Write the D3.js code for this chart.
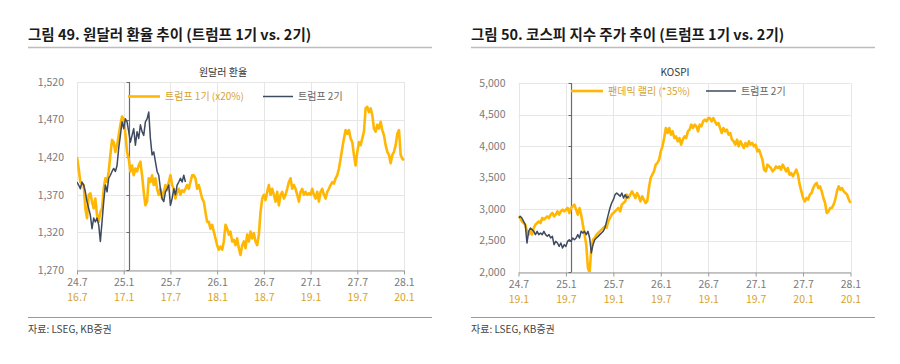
<!DOCTYPE html>
<html><head><meta charset="utf-8">
<script src="https://cdn.jsdelivr.net/npm/d3@7"></script>
<style>
body{margin:0;background:#fff}
svg text{font-family:"Noto Sans CJK KR","Noto Sans",sans-serif}
</style>
</head><body>
<svg id="c" width="900" height="364"></svg>
<script>
// ---------- data ----------
const samplesPerHalf = 28;           // samples per half-year
const inauguration = 1.105;          // half-years after 2024-07 (2025-01-20)

const xTickLabels = ["24.7","25.1","25.7","26.1","26.7","27.1","27.7","28.1"];
const leftSubLabels = ["16.7","17.1","17.7","18.1","18.7","19.1","19.7","20.1"];
const rightSubLabels = ["19.1","19.7","19.1","19.7","19.1","19.7","20.1","20.1"];

const leftYTicks = [1270,1320,1370,1420,1470,1520];
const rightYTicks = [2000,2500,3000,3500,4000,4500,5000];

// 원달러 환율: 트럼프 1기 (x20%)
const krwTrump1 = [
1420,1405,1387,1385,1383,1352,1339,1370,1372,1361,
1352,1365,1343,1334,1347,1352,1378,1392,1387,1401,
1423,1443,1440,1427,1436,1449,1463,1474,1471,1451,
1427,1418,1401,1409,1396,1405,1401,1409,1414,1396,
1374,1356,1361,1392,1387,1396,1383,1392,1378,1370,
1378,1365,1374,1383,1376,1387,1396,1383,1378,1365,
1374,1378,1370,1376,1374,1378,1383,1378,1387,1396,
1396,1392,1378,1383,1374,1365,1361,1347,1334,1334,
1325,1330,1321,1312,1303,1297,1301,1297,1308,1330,
1325,1317,1321,1308,1310,1303,1312,1299,1290,1303,
1308,1299,1317,1308,1321,1312,1319,1308,1303,1317,
1347,1365,1370,1363,1374,1383,1370,1378,1370,1361,
1374,1356,1370,1374,1365,1370,1378,1387,1392,1378,
1383,1378,1370,1361,1374,1378,1370,1374,1370,1372,
1370,1378,1370,1365,1374,1361,1374,1378,1370,1365,
1374,1378,1383,1387,1385,1392,1396,1405,1418,1432,
1445,1456,1451,1456,1445,1440,1423,1409,1427,1440,
1436,1445,1454,1485,1487,1480,1485,1476,1458,1454,
1463,1458,1467,1456,1449,1436,1427,1423,1412,1423,
1427,1436,1451,1456,1423,1418,1416];
// 원달러 환율: 트럼프 2기
const krwTrump2 = [
1387,1383,1378,1387,1383,1374,1361,1352,1343,1325,
1339,1334,1339,1330,1308,1334,1361,1383,1374,1392,
1396,1401,1405,1401,1409,1432,1449,1467,1458,1471,
1467,1454,1440,1449,1458,1436,1454,1445,1463,1454,
1449,1467,1471,1480,1445,1423,1427,1414,1401,1396,
1378,1365,1361,1374,1378,1383,1356,1365,1378,1370,
1383,1387,1392,1387,1396,1387];
// KOSPI: 팬데믹 랠리 (*35%)
const kospiPandemic = [
2884,2857,2804,2778,2751,2646,2593,2646,2593,2698,
2751,2778,2804,2778,2857,2831,2857,2884,2857,2910,
2937,2884,2910,2963,2910,2963,2989,2963,2989,3016,
2937,3016,3042,3069,2989,2910,3016,2910,2751,2593,
2434,2064,1990,2381,2513,2540,2593,2619,2646,2672,
2698,2725,2704,2804,2857,2910,2937,2963,2989,3016,
2963,3069,3095,3122,3228,3175,3228,3280,3228,3175,
3254,3201,3122,3201,3148,3095,3122,3333,3492,3545,
3598,3704,3730,3783,3915,3995,4127,4286,4206,4286,
4180,4233,4127,4153,4074,4127,4021,4101,4153,4127,
4233,4259,4339,4286,4339,4312,4233,4339,4312,4392,
4418,4392,4444,4444,4392,4444,4392,4339,4365,4286,
4206,4286,4233,4259,4180,4206,4101,4074,4021,4101,
3995,4074,4021,3968,4048,3995,4074,4021,4048,3995,
4021,3915,3942,3862,3783,3624,3598,3704,3677,3651,
3598,3624,3677,3651,3677,3624,3704,3651,3598,3651,
3545,3571,3519,3571,3624,3545,3386,3280,3175,3122,
3175,3148,3228,3254,3333,3386,3413,3333,3360,3280,
3175,3095,2937,2963,3016,3016,3069,3148,3280,3360,
3307,3333,3280,3254,3228,3148,3095];
// KOSPI: 트럼프 2기
const kospiTrump2 = [
2857,2884,2857,2804,2751,2460,2646,2698,2672,2646,
2593,2646,2593,2619,2593,2646,2593,2566,2593,2540,
2566,2434,2487,2460,2407,2460,2381,2434,2407,2487,
2513,2487,2540,2513,2540,2593,2540,2646,2619,2646,
2593,2646,2540,2302,2434,2513,2540,2566,2593,2619,
2646,2698,2804,2910,3016,3095,3148,3228,3254,3228,
3201,3254,3175,3228,3175,3201];

// ---------- drawing ----------
const YELLOW = "#FFB703", DARK = "#3D4A60", GOLDTXT = "#D9A22C";
const svg = d3.select("#c");

function panel(o){
  const x = d3.scaleLinear().domain([0,7]).range([o.x0,o.x1]);
  const y = d3.scaleLinear().domain([o.yTicks[0], o.yTicks[o.yTicks.length-1]]).range([o.yB,o.yT]);
  const g = svg.append("g");

  // title + rules
  g.append("text").attr("x",o.tx).attr("y",40).attr("font-size",14.5).attr("font-weight",700)
    .attr("fill","#1a1a1a").text(o.title);
  g.append("line").attr("x1",o.tx).attr("x2",o.tx+404).attr("y1",47.5).attr("y2",47.5)
    .attr("stroke","#bdbdbd").attr("stroke-width",1.5);
  g.append("line").attr("x1",o.tx).attr("x2",o.tx+404).attr("y1",317.5).attr("y2",317.5)
    .attr("stroke","#9a9a9a").attr("stroke-width",1);
  g.append("text").attr("x",o.tx).attr("y",333).attr("font-size",10).attr("fill","#444").text("자료: LSEG, KB증권");
  g.append("text").attr("x",o.subX).attr("y",76).attr("font-size",10).attr("fill","#333")
    .attr("text-anchor","middle").text(o.sub);

  // grid
  g.append("g").selectAll("line").data(o.yTicks).join("line")
    .attr("x1",o.x0).attr("x2",o.x1).attr("y1",d=>Math.round(y(d))+0.5).attr("y2",d=>Math.round(y(d))+0.5)
    .attr("stroke","#e6e6e6");
  g.append("g").selectAll("line").data(d3.range(8)).join("line")
    .attr("x1",d=>Math.round(x(d))+0.5).attr("x2",d=>Math.round(x(d))+0.5).attr("y1",o.yT).attr("y2",o.yB)
    .attr("stroke","#e6e6e6");

  // y labels
  const ya = g.append("g").attr("transform",`translate(${o.x0},0)`)
    .call(d3.axisLeft(y).tickValues(o.yTicks).tickFormat(d3.format(",")).tickSize(0).tickPadding(13));
  ya.select(".domain").remove();
  ya.selectAll("text").attr("font-size",10.5).attr("fill","#7a7a7a").attr("font-family","'Noto Sans','Noto Sans CJK KR',sans-serif");

  // x axis
  const xa = g.append("g").attr("transform",`translate(0,${Math.round(o.yB)+0.5})`)
    .call(d3.axisBottom(x).tickValues(d3.range(8)).tickFormat((d,i)=>xTickLabels[i]).tickSize(4).tickSizeOuter(0).tickPadding(4));
  xa.select(".domain").attr("stroke","#9a9a9a");
  xa.selectAll(".tick line").attr("stroke","#9a9a9a");
  xa.selectAll(".tick text").attr("font-size",10.5).attr("fill","#7a7a7a").attr("font-family","'Noto Sans','Noto Sans CJK KR',sans-serif");
  xa.selectAll(".tick").append("text").attr("y",o.subDy).attr("dy","0.71em").attr("fill",GOLDTXT)
    .attr("font-size",10.5).attr("font-family","'Noto Sans','Noto Sans CJK KR',sans-serif")
    .text((d,i)=>o.subLabels[i]);

  // inauguration line with ticks
  const xi = Math.round(x(inauguration))+0.5;
  g.append("line").attr("x1",xi).attr("x2",xi).attr("y1",o.yT).attr("y2",o.yB).attr("stroke","#6b6b6b").attr("stroke-width",1.2);
  g.append("g").selectAll("line").data(o.yTicks).join("line")
    .attr("x1",xi-3).attr("x2",xi).attr("y1",d=>Math.round(y(d))+0.5).attr("y2",d=>Math.round(y(d))+0.5)
    .attr("stroke","#6b6b6b");

  // clip
  const cid = "clip"+o.tx;
  svg.append("clipPath").attr("id",cid).append("rect")
    .attr("x",o.x0).attr("y",o.yT-2).attr("width",o.x1-o.x0+3).attr("height",o.yB-o.yT+2);

  const line = d3.line().x((d,i)=>x(i/samplesPerHalf)).y(d=>y(d)).curve(d3.curveLinear);
  g.append("path").datum(o.s1).attr("d",line).attr("fill","none").attr("stroke",YELLOW)
    .attr("stroke-width",2.6).attr("stroke-linejoin","round").attr("clip-path",`url(#${cid})`);
  g.append("path").datum(o.s2).attr("d",line).attr("fill","none").attr("stroke",DARK)
    .attr("stroke-width",1.5).attr("stroke-linejoin","round").attr("clip-path",`url(#${cid})`);

  // legend
  const lg = g.append("g");
  lg.append("line").attr("x1",o.lx1).attr("x2",o.lx1+32).attr("y1",o.ly).attr("y2",o.ly).attr("stroke",YELLOW).attr("stroke-width",2.6);
  lg.append("text").attr("x",o.lx1+37).attr("y",o.ly+3.5).attr("font-size",10).attr("fill",GOLDTXT).text(o.n1);
  lg.append("line").attr("x1",o.lx2).attr("x2",o.lx2+30).attr("y1",o.ly).attr("y2",o.ly).attr("stroke",DARK).attr("stroke-width",1.5);
  lg.append("text").attr("x",o.lx2+35).attr("y",o.ly+3.5).attr("font-size",10).attr("fill","#666").text(o.n2);
}

panel({tx:28, title:"그림 49. 원달러 환율 추이 (트럼프 1기 vs. 2기)", sub:"원달러 환율", subX:223,
  x0:77, x1:404, yT:82, yB:270, yTicks:leftYTicks, subLabels:leftSubLabels, subDy:23.5,
  s1:krwTrump1, s2:krwTrump2, n1:"트럼프 1기 (x20%)", n2:"트럼프 2기",
  lx1:128, lx2:263, ly:96.5});

panel({tx:471, title:"그림 50. 코스피 지수 주가 추이 (트럼프 1기 vs. 2기)", sub:"KOSPI", subX:675,
  x0:518.5, x1:850.5, yT:83, yB:272, yTicks:rightYTicks, subLabels:rightSubLabels, subDy:23,
  s1:kospiPandemic, s2:kospiTrump2, n1:"팬데믹 랠리 (*35%)", n2:"트럼프 2기",
  lx1:571, lx2:706, ly:91});
</script>
</body></html>
